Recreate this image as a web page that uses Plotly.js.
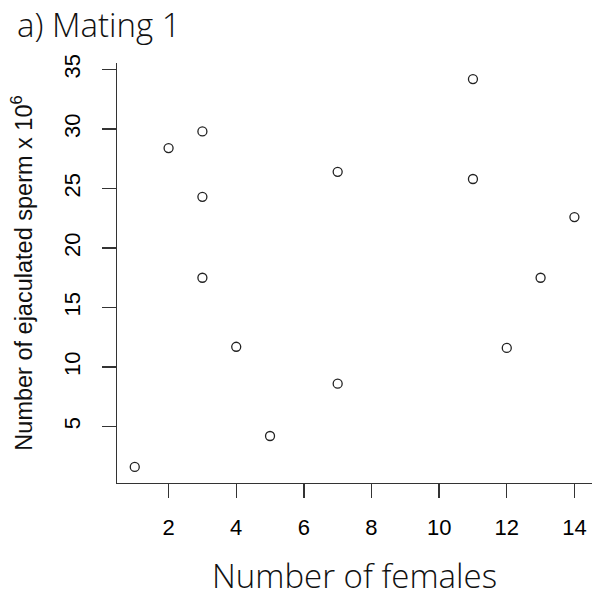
<!DOCTYPE html>
<html>
<head>
<meta charset="utf-8">
<script src="https://cdn.plot.ly/plotly-3.0.1.min.js"></script>
<style>
  html, body { margin: 0; padding: 0; background: #fff; }
  #chart { width: 592px; height: 600px; }
</style>
</head>
<body>
<div id="chart"></div>
<script>
// Number of females per male and the sperm he ejaculated (x 10^6), first mating
const females = [1, 2, 3, 3, 3, 4, 5, 7, 7, 11, 11, 12, 13, 14];
const spermMillions = [1.6, 28.4, 29.8, 24.3, 17.5, 11.7, 4.2, 26.4, 8.6, 34.2, 25.8, 11.6, 17.5, 22.6];

const xTicks = [2, 4, 6, 8, 10, 12, 14];
const yTicks = [5, 10, 15, 20, 25, 30, 35];

const axisColor = '#333333';
const tickFont = { family: 'Liberation Sans, Arial, sans-serif', size: 22, color: '#000000' };

const trace = {
  type: 'scatter',
  mode: 'markers',
  x: females,
  y: spermMillions,
  marker: {
    symbol: 'circle-open',
    size: 9,
    color: '#222222',
    line: { width: 1.3, color: '#222222' }
  },
  hoverinfo: 'x+y'
};

const layout = {
  width: 592,
  height: 600,
  paper_bgcolor: '#ffffff',
  plot_bgcolor: '#ffffff',
  margin: { l: 117, r: 0, t: 63, b: 117 },
  showlegend: false,
  title: {
    text: 'a) Mating 1',
    font: { family: 'Open Sans, sans-serif', size: 33, weight: 300, color: '#111111' },
    x: 17 / 592,
    xanchor: 'left',
    xref: 'container',
    y: 1 - 37 / 600,
    yanchor: 'bottom',
    yref: 'container'
  },
  xaxis: {
    range: [0.475, 14.52],
    tickvals: xTicks,
    ticktext: xTicks.map(String),
    ticks: 'outside',
    ticklen: 14,
    tickwidth: 1.3,
    tickcolor: axisColor,
    showline: true,
    linecolor: axisColor,
    linewidth: 1.3,
    mirror: false,
    showgrid: false,
    zeroline: false,
    tickfont: tickFont,
    ticklabelstandoff: 10,
    title: {
      text: 'Number of females',
      font: { family: 'Open Sans, sans-serif', size: 33, weight: 300, color: '#111111' },
      standoff: 26
    }
  },
  yaxis: {
    range: [0.25, 35.55],
    tickvals: yTicks,
    ticktext: yTicks.map(String),
    tickangle: -90,
    ticks: 'outside',
    ticklen: 14,
    tickwidth: 1.3,
    tickcolor: axisColor,
    showline: true,
    linecolor: axisColor,
    linewidth: 1.3,
    mirror: false,
    showgrid: false,
    zeroline: false,
    tickfont: tickFont,
    ticklabelstandoff: 13,
    title: {
      text: 'Number of ejaculated sperm x 10<sup>6</sup>',
      font: { family: 'Liberation Sans, Arial, sans-serif', size: 23.5, color: '#111111' },
      standoff: 20
    }
  }
};

Plotly.newPlot('chart', [trace], layout, { displayModeBar: false, staticPlot: true });
</script>
</body>
</html>
